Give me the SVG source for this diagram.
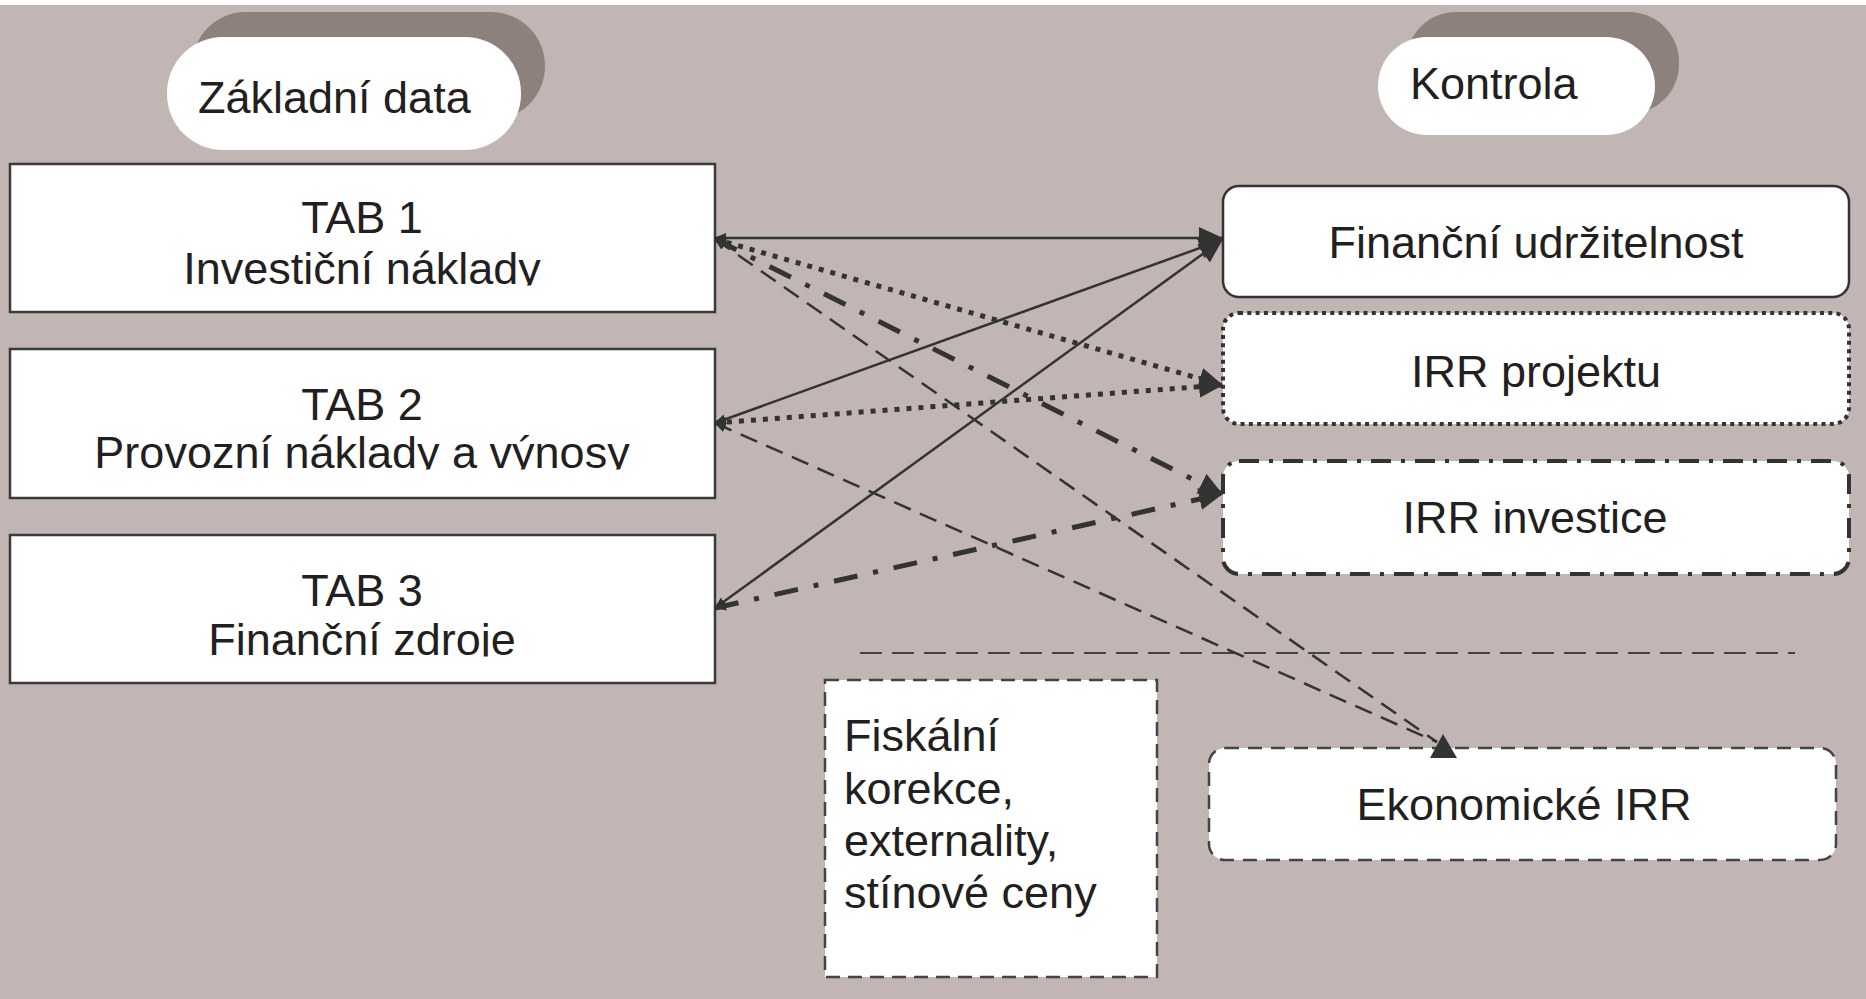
<svg xmlns="http://www.w3.org/2000/svg" width="1866" height="999" viewBox="0 0 1866 999">
<style>
.t{font-family:"Liberation Sans",Arial,sans-serif;font-size:45px;fill:#231f20}
.m{text-anchor:middle}
.box{fill:#fff;stroke:#3a3a3a;stroke-width:2.5}
.shadow{fill:#8e807c}
.pill{fill:#fff}
.c{fill:none;stroke:#333}
.solid{stroke-width:2.5}
.dot{stroke-width:5;stroke-dasharray:5 7}
.dd{stroke-width:5;stroke-dasharray:24 16 5 16}
.dash{stroke-width:2.5;stroke-dasharray:18 10}
</style>
<defs>
<marker id="ah" viewBox="0 0 24 24" refX="23" refY="12" markerWidth="24" markerHeight="24" orient="auto" markerUnits="userSpaceOnUse"><path d="M0,1 L24,12 L0,23 z" fill="#333"/></marker>
<marker id="as" viewBox="0 0 12 12" refX="11" refY="6" markerWidth="12" markerHeight="12" orient="auto-start-reverse" markerUnits="userSpaceOnUse"><path d="M0,1 L12,6 L0,11 z" fill="#333"/></marker>
<clipPath id="c1"><rect x="0" y="240" width="720" height="45.5"/></clipPath>
<clipPath id="c2"><rect x="0" y="425" width="720" height="44.5"/></clipPath>
<clipPath id="c3"><rect x="0" y="612" width="720" height="44.5"/></clipPath>
</defs>
<rect class="bg" x="0" y="0" width="1866" height="999" fill="#c1b6b3"/>
<rect x="0" y="0" width="1866" height="5" fill="#ffffff"/>

<g id="zakladni-data">
<rect class="shadow" x="192" y="12" width="353" height="108" rx="54"/>
<rect class="pill" x="167" y="37" width="354" height="113" rx="56"/>
<text class="t" x="198" y="113">Základní data</text>
</g>

<g id="kontrola">
<rect class="shadow" x="1406" y="12" width="273" height="102" rx="50"/>
<rect class="pill" x="1378" y="37" width="277" height="98" rx="49"/>
<text class="t" x="1410" y="99">Kontrola</text>
</g>

<g id="tab1">
<rect class="box" x="10" y="164" width="705" height="148"/>
<text class="t m" x="362" y="233">TAB 1</text>
<text class="t m" x="362" y="284" clip-path="url(#c1)">Investiční náklady</text>
</g>

<g id="tab2">
<rect class="box" x="10" y="349" width="705" height="149"/>
<text class="t m" x="362" y="420">TAB 2</text>
<text class="t m" x="362" y="468" clip-path="url(#c2)">Provozní náklady a výnosy</text>
</g>

<g id="tab3">
<rect class="box" x="10" y="535" width="705" height="148"/>
<text class="t m" x="362" y="606">TAB 3</text>
<text class="t m" x="362" y="655" clip-path="url(#c3)">Finanční zdroje</text>
</g>

<g id="financni-udrzitelnost">
<rect x="1223" y="186" width="626" height="111" rx="16" fill="#fff" stroke="#333" stroke-width="2.5"/>
<text class="t m" x="1536" y="258">Finanční udržitelnost</text>
</g>

<g id="irr-projektu">
<rect x="1223" y="313" width="626" height="111" rx="16" fill="#fff" stroke="#333" stroke-width="4" stroke-dasharray="4 4.3"/>
<text class="t m" x="1536" y="387">IRR projektu</text>
</g>

<g id="irr-investice">
<rect x="1223" y="461" width="626" height="113" rx="16" fill="#fff" stroke="#333" stroke-width="4" stroke-dasharray="20 10 4 10"/>
<text class="t m" x="1535" y="533">IRR investice</text>
</g>

<g id="separator">
<line x1="860" y1="653" x2="1795" y2="653" stroke="#444" stroke-width="2" stroke-dasharray="22 10"/>
</g>

<g id="fiskalni">
<rect x="825" y="680" width="332" height="297" fill="#fff" stroke="#444" stroke-width="2.5" stroke-dasharray="14 8"/>
<text class="t" x="844" y="751">Fiskální</text>
<text class="t" x="844" y="804">korekce,</text>
<text class="t" x="844" y="856">externality,</text>
<text class="t" x="844" y="908">stínové ceny</text>
</g>

<g id="ekonomicke-irr">
<rect x="1209" y="748" width="627" height="112" rx="16" fill="#fff" stroke="#444" stroke-width="2.5" stroke-dasharray="14 9"/>
<text class="t m" x="1524" y="820">Ekonomické IRR</text>
</g>

<g id="connectors">
<line class="c solid" x1="715" y1="238" x2="1222" y2="238" marker-start="url(#as)" marker-end="url(#ah)"/>
<line class="c solid" x1="715" y1="423" x2="1222" y2="240" marker-start="url(#as)" marker-end="url(#ah)"/>
<line class="c solid" x1="715" y1="608" x2="1222" y2="240" marker-start="url(#as)" marker-end="url(#ah)"/>
<line class="c dot" x1="715" y1="239" x2="1222" y2="385" marker-start="url(#as)" marker-end="url(#ah)"/>
<line class="c dot" x1="715" y1="423" x2="1222" y2="385" marker-start="url(#as)" marker-end="url(#ah)"/>
<line class="c dd" x1="715" y1="239" x2="1222" y2="494" marker-start="url(#as)" marker-end="url(#ah)"/>
<line class="c dd" x1="715" y1="608" x2="1222" y2="494" marker-start="url(#as)" marker-end="url(#ah)"/>
<line class="c dash" x1="715" y1="239" x2="1437" y2="742" marker-start="url(#as)"/>
<line class="c dash" x1="715" y1="423" x2="1437" y2="742" marker-start="url(#as)"/>
<polygon points="1443,734 1430,758 1457,758" fill="#333"/>
</g>
</svg>
